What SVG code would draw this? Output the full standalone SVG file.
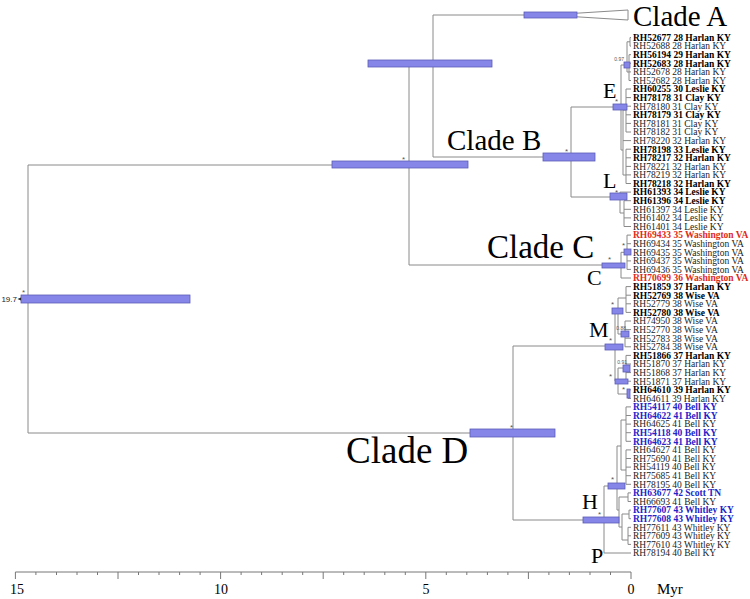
<svg xmlns="http://www.w3.org/2000/svg" width="750" height="599" viewBox="0 0 750 599">
<style>
.br{stroke:#8a8a8a;stroke-width:1;fill:none}
.bar{fill:#8686e8;stroke:#5c5cb8;stroke-width:0.8}
.tip{font-family:"Liberation Serif",serif;font-size:9.5px;fill:#222}
.b{font-weight:bold;fill:#000}
.red{fill:#e02a20}
.blue{fill:#2323c8}
.clade{font-family:"Liberation Serif",serif;font-size:29px;fill:#000}
.let{font-family:"Liberation Serif",serif;font-size:22px;fill:#000}
.star{font-family:"Liberation Sans",sans-serif;font-size:8px;fill:#555}
.pp{font-family:"Liberation Sans",sans-serif;font-size:5px;fill:#555}
.ax{font-family:"Liberation Serif",serif;font-size:14px;fill:#000}
</style>
<rect width="750" height="599" fill="#fff"/>
<g id="connectors">
<path class="br" d="M21,299H28M28,165V433M28,165H409M28,433H513"/>
<path class="br" d="M409,63V265M409,63H433M433,15V157M433,15H548M433,157H571M409,265H621"/>
<path class="br" d="M548,15L628,10V20Z"/>
<path class="br" d="M571,107V197M571,107H621M571,197H620"/>
<path class="br" d="M621,65V150M621,65H627M627,41.8V72M627,41.8H630M630,37.5V46.1M630,37.5H631M630,46.1H631M627,72H629M629,54.7V80.5M629,54.7H631M629,63.3H631M629,71.9H631M629,80.5H631"/>
<path class="br" d="M621,150H623M623,110V175M623,110H626M626,89V132M626,89H631M626,97.6H631M626,106.2H631M626,114.8H631M626,123.4H631M626,132H631M623,140.6H631M623,175H626M626,149.2V183.5M626,149.2H631M626,157.8H631M626,166.4H631M626,174.9H631M626,183.5H631"/>
<path class="br" d="M620,192.1V213M620,192.1H631M620,213H624M624,200.7V226.5M624,200.7H631M624,209.3H631M624,217.9H631M624,226.5H631"/>
<path class="br" d="M621,252.3V278M621,252.3H627M627,235.1V269.4M627,235.1H631M627,243.7H631M627,252.3H631M627,260.9H631M627,269.4H631M621,278H631"/>
<path class="br" d="M513,346V520M513,346H615M513,520H604"/>
<path class="br" d="M615,310V381M615,310H618M618,298V334M618,298H626M626,286.6V312.4M626,286.6H631M626,295.2H631M626,303.8H631M626,312.4H631M618,334H625M625,321V346.8M625,321H631M625,329.6H631M625,338.2H631M625,346.8H631"/>
<path class="br" d="M615,381H618M618,368V394M618,368H626M626,355.4V381.2M626,355.4H631M626,364H631M626,372.6H631M626,381.2H631M618,394H628M628,389.8V398.4M628,389.8H631M628,398.4H631"/>
<path class="br" d="M604,486V553M604,553H631M604,486H617M617,446V510M617,446H621M621,420V470M621,420H626M626,406.9V441.3M626,406.9H631M626,415.5H631M626,424.1H631M626,432.7H631M626,441.3H631M621,470H626M626,449.9V484.3M626,449.9H631M626,458.5H631M626,467.1H631M626,475.7H631M626,484.3H631"/>
<path class="br" d="M617,510H619M619,497V527M619,497H628M628,492.9V501.5M628,492.9H631M628,501.5H631M619,527H622M622,514V540M622,514H629M629,510.1V518.7M629,510.1H631M629,518.7H631M622,540H628M628,527.3V544.4M628,527.3H631M628,535.8H631M628,544.4H631"/>
</g>
<g id="bars">
<rect class="bar" x="21" y="295" width="169" height="8"/>
<rect class="bar" x="332" y="161" width="136" height="7"/>
<rect class="bar" x="368" y="60" width="124" height="7"/>
<rect class="bar" x="524" y="12" width="53" height="6"/>
<rect class="bar" x="543" y="153" width="52" height="8"/>
<rect class="bar" x="613" y="104" width="14" height="6"/>
<rect class="bar" x="624" y="62" width="6" height="6"/>
<rect class="bar" x="610" y="193" width="17" height="7"/>
<rect class="bar" x="602" y="263" width="23" height="5"/>
<rect class="bar" x="624" y="249" width="7" height="6"/>
<rect class="bar" x="470" y="429" width="85" height="8"/>
<rect class="bar" x="605" y="344" width="18" height="6"/>
<rect class="bar" x="612" y="308" width="11" height="6"/>
<rect class="bar" x="621" y="331" width="8" height="6"/>
<rect class="bar" x="615" y="379" width="13" height="5"/>
<rect class="bar" x="623" y="365" width="7" height="7"/>
<rect class="bar" x="627" y="389" width="3" height="9"/>
<rect class="bar" x="583" y="517" width="36" height="6"/>
<rect class="bar" x="608" y="483" width="17" height="6"/>
</g>
<g id="support">
<text class="star" x="22" y="295">*</text>
<text class="star" x="402" y="162">*</text>
<text class="star" x="565" y="154">*</text>
<text class="star" x="615" y="104">*</text>
<text class="star" x="615" y="195">*</text>
<text class="star" x="608" y="262">*</text>
<text class="star" x="622" y="248">*</text>
<text class="star" x="510" y="430">*</text>
<text class="star" x="609" y="343">*</text>
<text class="star" x="611" y="307">*</text>
<text class="star" x="609" y="379">*</text>
<text class="star" x="622" y="392">*</text>
<text class="star" x="598" y="517">*</text>
<text class="star" x="611" y="482">*</text>
<text class="pp" x="624" y="61" text-anchor="end">0.97</text>
<text class="pp" x="626" y="330" text-anchor="end">0.88</text>
<text class="pp" x="627" y="364" text-anchor="end">0.91</text>
<text x="17" y="302" text-anchor="end" style="font-family:'Liberation Sans',sans-serif;font-size:8px;fill:#222">19.7</text>
<path d="M17.5,299L21,297.5V300.5Z" fill="#222"/>
</g>
<g id="clade-labels">
<text class="clade" x="633" y="26">Clade A</text>
<text class="clade" x="447" y="150">Clade B</text>
<text class="clade" x="487" y="258" style="font-size:33px">Clade C</text>
<text class="clade" x="346" y="463" style="font-size:37px">Clade D</text>
<text class="let" x="603" y="98">E</text>
<text class="let" x="603" y="188">L</text>
<text class="let" x="587" y="285">C</text>
<text class="let" x="589" y="337">M</text>
<text class="let" x="582" y="509">H</text>
<text class="let" x="591" y="563">P</text>
</g>
<g id="tips" class="tip">
<text x="633" y="40.8" class="b">RH52677 28 Harlan KY</text>
<text x="633" y="49.4">RH52688 28 Harlan KY</text>
<text x="633" y="58" class="b">RH56194 29 Harlan KY</text>
<text x="633" y="66.6" class="b">RH52683 28 Harlan KY</text>
<text x="633" y="75.2">RH52678 28 Harlan KY</text>
<text x="633" y="83.8">RH52682 28 Harlan KY</text>
<text x="633" y="92.3" class="b">RH60255 30 Leslie KY</text>
<text x="633" y="100.9" class="b">RH78178 31 Clay KY</text>
<text x="633" y="109.5">RH78180 31 Clay KY</text>
<text x="633" y="118.1" class="b">RH78179 31 Clay KY</text>
<text x="633" y="126.7">RH78181 31 Clay KY</text>
<text x="633" y="135.3">RH78182 31 Clay KY</text>
<text x="633" y="143.9">RH78220 32 Harlan KY</text>
<text x="633" y="152.5" class="b">RH78198 33 Leslie KY</text>
<text x="633" y="161.1" class="b">RH78217 32 Harlan KY</text>
<text x="633" y="169.7">RH78221 32 Harlan KY</text>
<text x="633" y="178.2">RH78219 32 Harlan KY</text>
<text x="633" y="186.8" class="b">RH78218 32 Harlan KY</text>
<text x="633" y="195.4" class="b">RH61393 34 Leslie KY</text>
<text x="633" y="204" class="b">RH61396 34 Leslie KY</text>
<text x="633" y="212.6">RH61397 34 Leslie KY</text>
<text x="633" y="221.2">RH61402 34 Leslie KY</text>
<text x="633" y="229.8">RH61401 34 Leslie KY</text>
<text x="633" y="238.4" class="b red">RH69433 35 Washington VA</text>
<text x="633" y="247">RH69434 35 Washington VA</text>
<text x="633" y="255.6">RH69435 35 Washington VA</text>
<text x="633" y="264.2">RH69437 35 Washington VA</text>
<text x="633" y="272.7">RH69436 35 Washington VA</text>
<text x="633" y="281.3" class="b red">RH70699 36 Washington VA</text>
<text x="633" y="289.9" class="b">RH51859 37 Harlan KY</text>
<text x="633" y="298.5" class="b">RH52769 38 Wise VA</text>
<text x="633" y="307.1">RH52779 38 Wise VA</text>
<text x="633" y="315.7" class="b">RH52780 38 Wise VA</text>
<text x="633" y="324.3">RH74950 38 Wise VA</text>
<text x="633" y="332.9">RH52770 38 Wise VA</text>
<text x="633" y="341.5">RH52783 38 Wise VA</text>
<text x="633" y="350.1">RH52784 38 Wise VA</text>
<text x="633" y="358.7" class="b">RH51866 37 Harlan KY</text>
<text x="633" y="367.3">RH51870 37 Harlan KY</text>
<text x="633" y="375.9">RH51868 37 Harlan KY</text>
<text x="633" y="384.5">RH51871 37 Harlan KY</text>
<text x="633" y="393.1" class="b">RH64610 39 Harlan KY</text>
<text x="633" y="401.7">RH64611 39 Harlan KY</text>
<text x="633" y="410.2" class="b blue">RH54117 40 Bell KY</text>
<text x="633" y="418.8" class="b blue">RH64622 41 Bell KY</text>
<text x="633" y="427.4">RH64625 41 Bell KY</text>
<text x="633" y="436" class="b blue">RH54118 40 Bell KY</text>
<text x="633" y="444.6" class="b blue">RH64623 41 Bell KY</text>
<text x="633" y="453.2">RH64627 41 Bell KY</text>
<text x="633" y="461.8">RH75690 41 Bell KY</text>
<text x="633" y="470.4">RH54119 40 Bell KY</text>
<text x="633" y="479">RH75685 41 Bell KY</text>
<text x="633" y="487.6">RH78195 40 Bell KY</text>
<text x="633" y="496.2" class="b blue">RH63677 42 Scott TN</text>
<text x="633" y="504.8">RH66693 41 Bell KY</text>
<text x="633" y="513.4" class="b blue">RH77607 43 Whitley KY</text>
<text x="633" y="522" class="b blue">RH77608 43 Whitley KY</text>
<text x="633" y="530.6">RH77611 43 Whitley KY</text>
<text x="633" y="539.1">RH77609 43 Whitley KY</text>
<text x="633" y="547.7">RH77610 43 Whitley KY</text>
<text x="633" y="556.3">RH78194 40 Bell KY</text>
</g>
<g id="axis">
<path class="br" style="stroke:#777" d="M15.4,572H631M15.4,572V579M118,572V579M220.6,572V579M323.2,572V579M425.8,572V579M528.4,572V579M631,572V579M35.9,572V575M56.5,572V575M77,572V575M97.5,572V575M138.5,572V575M159,572V575M179.6,572V575M200.1,572V575M241.1,572V575M261.6,572V575M282.2,572V575M302.7,572V575M343.7,572V575M364.2,572V575M384.8,572V575M405.3,572V575M446.3,572V575M466.8,572V575M487.4,572V575M507.9,572V575M548.9,572V575M569.4,572V575M590,572V575M610.5,572V575"/>
<text class="ax" x="17" y="594" text-anchor="middle">15</text>
<text class="ax" x="221" y="594" text-anchor="middle">10</text>
<text class="ax" x="426" y="594" text-anchor="middle">5</text>
<text class="ax" x="631" y="594" text-anchor="middle">0</text>
<text class="ax" x="657" y="594" style="font-size:15px">Myr</text>
</g>
</svg>
